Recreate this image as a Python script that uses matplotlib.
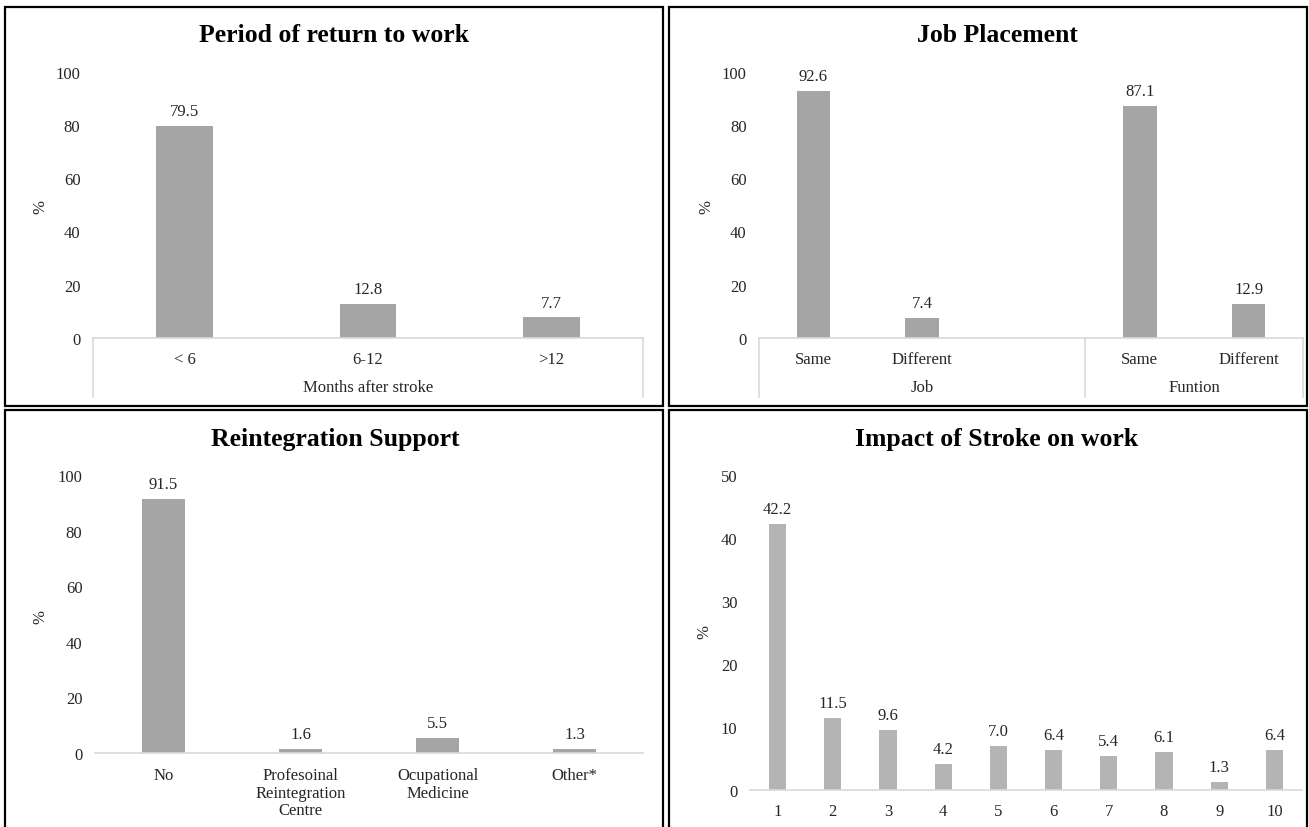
import matplotlib
matplotlib.use("Agg")
import matplotlib.pyplot as plt
from matplotlib.patches import Rectangle
from matplotlib.transforms import blended_transform_factory

plt.rcParams['font.family'] = ['Liberation Serif', 'DejaVu Serif']
plt.rcParams['font.size'] = 12

# data
period_labels = ['< 6', '6-12', '>12']
period_values = [79.5, 12.8, 7.7]

job_labels = ['Same', 'Different', '', 'Same', 'Different']
job_values = [92.6, 7.4, None, 87.1, 12.9]
job_groups = ['Job', 'Funtion']

support_labels = ['No', 'Profesoinal\nReintegration\nCentre', 'Ocupational\nMedicine', 'Other*']
support_values = [91.5, 1.6, 5.5, 1.3]

impact_labels = ['1', '2', '3', '4', '5', '6', '7', '8', '9', '10']
impact_values = [42.2, 11.5, 9.6, 4.2, 7.0, 6.4, 5.4, 6.1, 1.3, 6.4]

W, H = 1309, 828
fig = plt.figure(figsize=(W / 100, H / 100), dpi=100)

AXIS_GRAY = '#D9D9D9'
TEXT = '#262626'


def px_axes(x0, y0, x1, y1):
    # pixel box (from top-left) -> figure axes
    return fig.add_axes([x0 / W, 1 - y1 / H, (x1 - x0) / W, (y1 - y0) / H])


def panel_box(x0, y0, x1, y1):
    fig.patches.append(Rectangle((x0 / W, 1 - y1 / H), (x1 - x0) / W, (y1 - y0) / H,
                                 transform=fig.transFigure, fill=False,
                                 edgecolor='black', linewidth=1.6))


def style(ax, ymax, step):
    ax.set_ylim(0, ymax)
    ax.set_yticks(range(0, ymax + 1, step))
    for s in ['top', 'right', 'left']:
        ax.spines[s].set_visible(False)
    ax.spines['bottom'].set_color(AXIS_GRAY)
    ax.spines['bottom'].set_linewidth(1.2)
    ax.tick_params(axis='both', length=0, labelsize=12, colors=TEXT)
    ax.tick_params(axis='y', pad=9)
    ax.tick_params(axis='x', pad=9.5)


def bars(ax, values, color):
    xs = [i for i, v in enumerate(values) if v is not None]
    vs = [v for v in values if v is not None]
    ax.bar(xs, vs, width=0.31, color=color)
    for x, v in zip(xs, vs):
        ax.annotate(f'{v:.1f}', (x, v), xytext=(0, 5), textcoords='offset points',
                    ha='center', va='bottom', fontsize=12, color=TEXT)
    ax.set_xlim(-0.5, len(values) - 0.5)


def title(x, y, s):
    fig.text(x / W, 1 - y / H, s, ha='center', va='center', fontsize=18.5,
             fontweight='bold', color='black')


def ylab(x, y):
    fig.text(x / W, 1 - y / H, '%', rotation=90, ha='center', va='center',
             fontsize=12, color=TEXT)


# panel 1
panel_box(5, 8, 663, 407)
ax1 = px_axes(93, 72.7, 643, 339)
style(ax1, 100, 20)
bars(ax1, period_values, '#A5A5A5')
ax1.set_xticks(range(len(period_labels)))
ax1.set_xticklabels(period_labels)
depth = -(398 - 339) / (339 - 72.7)
for xa in [0, 1]:
    ax1.plot([xa, xa], [0, depth], transform=ax1.transAxes, color=AXIS_GRAY,
             lw=1.2, clip_on=False)
ax1.text(0.5, (339 - 388) / (339 - 72.7), 'Months after stroke', transform=ax1.transAxes,
         ha='center', va='center', fontsize=12, color=TEXT)
title(334, 36, 'Period of return to work')
ylab(40, 207)

# panel 2
panel_box(669, 8, 1307, 407)
ax2 = px_axes(759, 72.7, 1303, 339)
style(ax2, 100, 20)
bars(ax2, job_values, '#A5A5A5')
ax2.set_xticks(range(len(job_labels)))
ax2.set_xticklabels(job_labels)
tr = blended_transform_factory(ax2.transData, ax2.transAxes)
for xd in [-0.5, 2.5, 4.5]:
    ax2.plot([xd, xd], [0, depth], transform=tr, color=AXIS_GRAY, lw=1.2, clip_on=False)
gy = (339 - 388) / (339 - 72.7)
ax2.text(1.0, gy, job_groups[0], transform=tr, ha='center', va='center', fontsize=12, color=TEXT)
ax2.text(3.5, gy, job_groups[1], transform=tr, ha='center', va='center', fontsize=12, color=TEXT)
title(997, 36, 'Job Placement')
ylab(706, 207)

# panel 3
panel_box(5, 411, 663, 832)
ax3 = px_axes(95, 476, 643, 754)
style(ax3, 100, 20)
bars(ax3, support_values, '#A5A5A5')
ax3.set_xticks(range(len(support_labels)))
ax3.set_xticklabels(support_labels, linespacing=1.15)
ax3.tick_params(axis='x', pad=10)
title(335, 440, 'Reintegration Support')
ylab(40, 617)

# panel 4
panel_box(669, 411, 1307, 832)
ax4 = px_axes(750, 476, 1302, 791)
style(ax4, 50, 10)
bars(ax4, impact_values, '#B4B4B4')
ax4.set_xticks(range(len(impact_labels)))
ax4.set_xticklabels(impact_labels)
title(997, 440, 'Impact of Stroke on work')
ylab(704, 632)

fig.savefig('out.png', dpi=100)
